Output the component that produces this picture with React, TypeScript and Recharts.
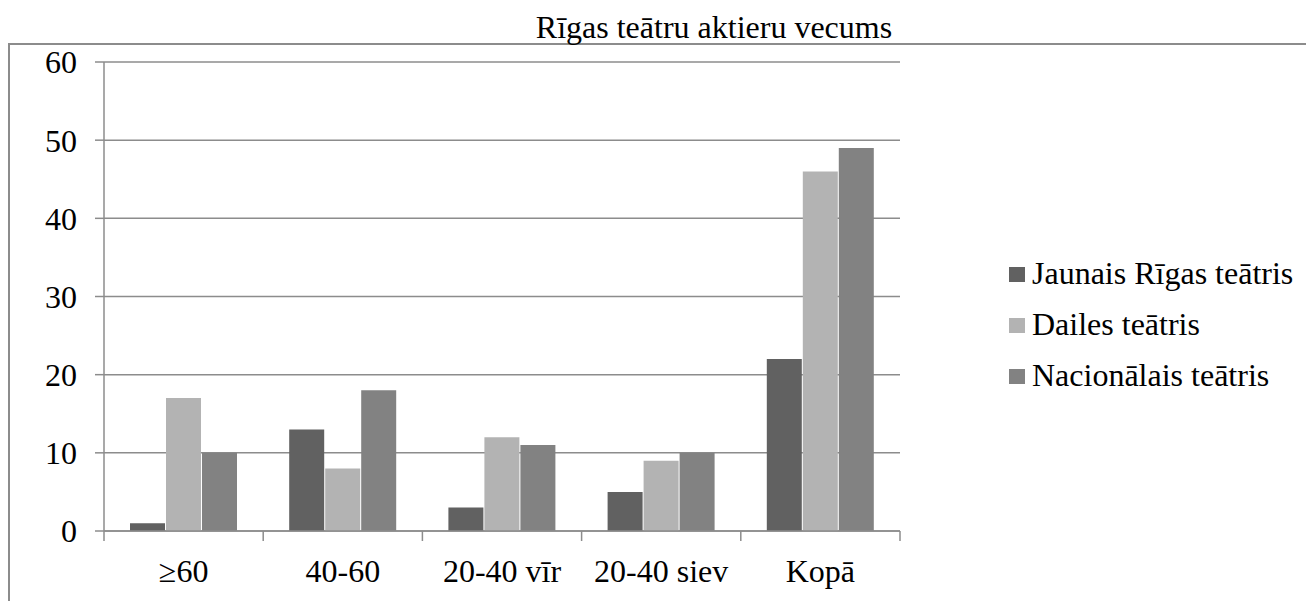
import React from "react"
import { BarChart, Bar, XAxis, YAxis, CartesianGrid } from "recharts"

const categories = ["≥60", "40-60", "20-40 vīr", "20-40 siev", "Kopā"]
const jaunais = [1, 13, 3, 5, 22]
const dailes = [17, 8, 12, 9, 46]
const nacionalais = [10, 18, 11, 10, 49]
const yTicks = [0, 10, 20, 30, 40, 50, 60]

const series = [
  { key: "jaunais", name: "Jaunais Rīgas teātris", color: "#616161" },
  { key: "dailes", name: "Dailes teātris", color: "#b3b3b3" },
  { key: "nacionalais", name: "Nacionālais teātris", color: "#828282" },
]

const data = categories.map((c, i) => ({
  cat: c,
  jaunais: jaunais[i],
  dailes: dailes[i],
  nacionalais: nacionalais[i],
}))

const font = "'Liberation Serif', 'Times New Roman', serif"
const axisColor = "#8c8c8c"
const X_TICK_SIZE = 6
const X_TICK_MARGIN = 22

// category label in the middle, tick marks on the band edges
function CatTick(props: any) {
  const { x, y, payload, index, visibleTicksCount } = props
  const axisY = y - X_TICK_SIZE - X_TICK_MARGIN
  const off = payload.offset || 0
  const last = index === visibleTicksCount - 1
  return (
    <g>
      <line x1={x - off} x2={x - off} y1={axisY} y2={axisY + 10} stroke={axisColor} strokeWidth={1.5} />
      {last && <line x1={x + off} x2={x + off} y1={axisY} y2={axisY + 10} stroke={axisColor} strokeWidth={1.5} />}
      <text x={x} y={y} dy="0.71em" textAnchor="middle" fill="#000" fontSize={32} fontFamily={font}>
        {payload.value}
      </text>
    </g>
  )
}

export default function App() {
  return (
    <div
      style={{
        position: "absolute",
        left: 0,
        top: 0,
        width: 1306,
        height: 601,
        background: "#fff",
        overflow: "hidden",
        fontFamily: font,
      }}
    >
      <div style={{ position: "absolute", left: 8, top: 43, width: 1298, height: 2, background: axisColor }} />
      <div style={{ position: "absolute", left: 8, top: 43, width: 2, height: 558, background: axisColor }} />
      <div
        style={{
          position: "absolute",
          left: 314,
          width: 800,
          top: 11,
          lineHeight: "32px",
          textAlign: "center",
          fontSize: 32,
          color: "#000",
          whiteSpace: "nowrap",
        }}
      >
        Rīgas teātru aktieru vecums
      </div>
      <div style={{ position: "absolute", left: 0, top: 0 }}>
        <BarChart
          width={1306}
          height={601}
          data={data}
          margin={{ top: 62, right: 406, bottom: 40, left: 0 }}
          barSize={35}
          barGap={1}
        >
          <CartesianGrid vertical={false} stroke={axisColor} strokeWidth={1.5} />
          <XAxis
            dataKey="cat"
            height={30}
            tickSize={X_TICK_SIZE}
            tickMargin={X_TICK_MARGIN}
            tickLine={false}
            axisLine={{ stroke: axisColor, strokeWidth: 1.5 }}
            tick={<CatTick />}
            interval={0}
          />
          <YAxis
            width={104}
            domain={[0, 60]}
            ticks={yTicks}
            tickSize={9}
            tickMargin={18}
            axisLine={{ stroke: axisColor, strokeWidth: 1.5 }}
            tickLine={{ stroke: axisColor, strokeWidth: 1.5 }}
            tick={{ fill: "#000", fontSize: 32, fontFamily: font }}
          />
          {series.map((s) => (
            <Bar key={s.key} dataKey={s.key} name={s.name} fill={s.color} isAnimationActive={false} />
          ))}
        </BarChart>
      </div>
      <div style={{ position: "absolute", left: 1009, top: 248, fontSize: 32, color: "#000", whiteSpace: "nowrap" }}>
        {series.map((s) => (
          <div key={s.key} style={{ display: "flex", alignItems: "center", height: 51, lineHeight: "51px" }}>
            <span style={{ display: "inline-block", width: 16, height: 15, marginTop: 2, background: s.color, marginRight: 7 }} />
            <span>{s.name}</span>
          </div>
        ))}
      </div>
    </div>
  )
}
